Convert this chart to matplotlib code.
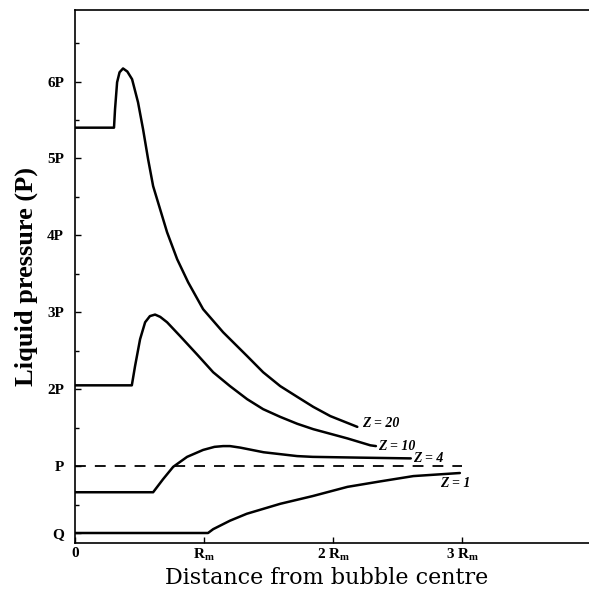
import numpy as np
import matplotlib
matplotlib.use("Agg")
import matplotlib.pyplot as plt

# Pressure profiles (units of P) vs distance from bubble centre (units of R_m)
z20_x = [0.0, 0.302, 0.310, 0.326, 0.345, 0.372, 0.405, 0.442, 0.488, 0.527, 0.566, 0.605, 0.659,
         0.713, 0.791, 0.876, 0.992, 1.147, 1.333, 1.457, 1.589, 1.721, 1.845, 1.977, 2.186]
z20_y = [5.40, 5.40, 5.64, 5.99, 6.12, 6.17, 6.13, 6.03, 5.73, 5.38, 4.99, 4.64, 4.34,
         4.04, 3.69, 3.39, 3.04, 2.74, 2.43, 2.22, 2.04, 1.90, 1.77, 1.65, 1.51]

z10_x = [0.0, 0.44, 0.465, 0.504, 0.543, 0.58, 0.62, 0.66, 0.713, 0.814, 0.946, 1.07, 1.20,
         1.333, 1.457, 1.589, 1.721, 1.845, 1.977, 2.109, 2.287, 2.33]
z10_y = [2.05, 2.05, 2.30, 2.65, 2.87, 2.95, 2.97, 2.94, 2.87, 2.69, 2.45, 2.22, 2.04,
         1.87, 1.74, 1.64, 1.55, 1.48, 1.42, 1.36, 1.27, 1.26]

z4_x = [0.0, 0.605, 0.682, 0.76, 0.868, 0.992, 1.08, 1.147, 1.20, 1.28, 1.46, 1.72, 1.84, 2.20, 2.60]
z4_y = [0.66, 0.66, 0.83, 0.99, 1.12, 1.21, 1.25, 1.26, 1.26, 1.24, 1.18, 1.13, 1.12, 1.11, 1.10]

z1_x = [0.0, 1.03, 1.07, 1.20, 1.33, 1.59, 1.84, 2.11, 2.36, 2.62, 2.98]
z1_y = [0.13, 0.13, 0.18, 0.29, 0.38, 0.51, 0.61, 0.73, 0.80, 0.87, 0.91]

p_level = 1.0
dash_end = 3.0
q_level = 0.13

curve_labels = ["Z = 20", "Z = 10", "Z = 4", "Z = 1"]
label_x = [2.22, 2.35, 2.62, 2.83]
label_y = [1.55, 1.26, 1.10, 0.78]

ytick_vals = [q_level, 1, 2, 3, 4, 5, 6]
ytick_text = ["Q", "P", "2P", "3P", "4P", "5P", "6P"]
xtick_vals = [0, 1, 2, 3]
xtick_text = ["0", r"R$_{\mathbf{m}}$", r"2 R$_{\mathbf{m}}$", r"3 R$_{\mathbf{m}}$"]

plt.rcParams['font.family'] = ['Liberation Serif', 'DejaVu Serif']
plt.rcParams['mathtext.fontset'] = 'custom'
plt.rcParams['mathtext.rm'] = 'Liberation Serif:bold'
plt.rcParams['mathtext.it'] = 'Liberation Serif:bold'
plt.rcParams['mathtext.bf'] = 'Liberation Serif:bold'

fig = plt.figure(figsize=(5.89, 5.95), dpi=100)
ax = fig.add_axes([75/589, 52/595, 514/589, 533/595])

for xs, ys in [(z20_x, z20_y), (z10_x, z10_y), (z4_x, z4_y), (z1_x, z1_y)]:
    ax.plot(xs, ys, color='k', lw=1.8, solid_joinstyle='round', solid_capstyle='round')

ax.plot([0, dash_end], [p_level, p_level], color='k', lw=1.3, ls=(0, (6, 5)))

for t, lx, ly in zip(curve_labels, label_x, label_y):
    ax.text(lx, ly, t, fontsize=10, style='italic', fontweight='bold', va='center', ha='left')

ax.set_xlim(0, 3.98)
ax.set_ylim(0, 6.93)

ax.set_yticks(ytick_vals)
ax.set_yticklabels(ytick_text, fontsize=11, fontweight='bold')
ax.set_yticks(np.arange(0.5, 6.6, 1.0), minor=True)
ax.set_xticks(xtick_vals)
ax.set_xticklabels(xtick_text, fontsize=11, fontweight='bold')

ax.tick_params(axis='both', which='major', direction='in', length=4, width=1)
ax.tick_params(axis='y', which='major', pad=8)
ax.tick_params(axis='x', which='major', pad=3)
ax.tick_params(axis='y', which='minor', direction='in', length=3, width=1)

ax.spines['right'].set_visible(False)
for s in ['left', 'top', 'bottom']:
    ax.spines[s].set_linewidth(1.2)

ax.set_ylabel("Liquid pressure (P)", fontsize=19, fontweight='bold')
ax.yaxis.set_label_coords(-0.072, 0.5)
ax.set_xlabel("Distance from bubble centre", fontsize=16, family='DejaVu Serif')
ax.xaxis.set_label_coords(0.49, -0.045)

plt.savefig("out.png", dpi=100)
